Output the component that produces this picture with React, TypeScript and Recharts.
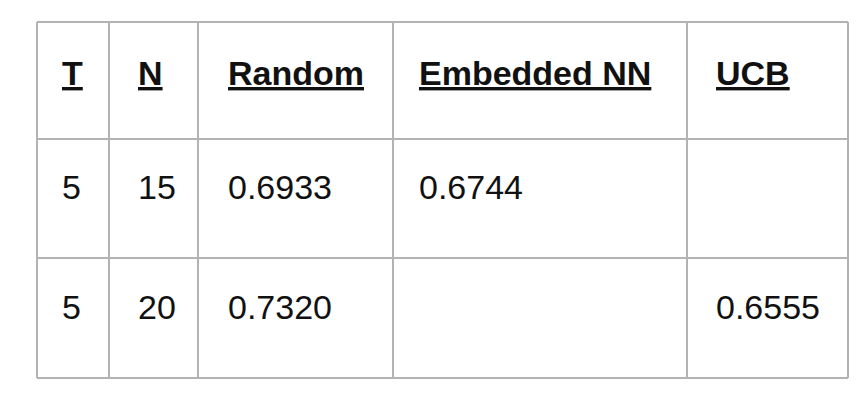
import React from 'react';
import { ScatterChart, Scatter, XAxis, YAxis, ReferenceLine } from 'recharts';

const headers = ['T', 'N', 'Random', 'Embedded NN', 'UCB'];
const rows = [
  ['5', '15', '0.6933', '0.6744', ''],
  ['5', '20', '0.7320', '', '0.6555'],
];
const colEdges = [37, 109, 198, 393, 687, 848];
const rowEdges = [22, 139, 258, 378];
const textX = [62, 138, 228, 419, 716];
const textY = [85, 199, 319];

const cells = [
  ...headers.map((t, c) => ({ x: textX[c], y: textY[0], text: t, bold: true })),
  ...rows.flatMap((r, ri) =>
    r.map((t, c) => ({ x: textX[c], y: textY[ri + 1], text: t, bold: false }))
  ),
].filter((d) => d.text !== '');

const CellText = (props: any) => {
  const { cx, cy, payload } = props;
  return (
    <text
      x={cx}
      y={cy}
      fontFamily="Liberation Sans, Arial, sans-serif"
      fontSize={34}
      fontWeight={payload.bold ? 700 : 400}
      textDecoration={payload.bold ? 'underline' : undefined}
      fill="#111"
    >
      {payload.text}
    </text>
  );
};

export default function App() {
  return (
    <div style={{ position: 'absolute', left: 0, top: 0, background: '#fff' }}>
      <ScatterChart width={868} height={402} margin={{ top: 0, right: 0, bottom: 0, left: 0 }}>
        <XAxis type="number" dataKey="x" domain={[0, 868]} hide />
        <YAxis type="number" dataKey="y" domain={[0, 402]} reversed hide />
        {colEdges.map((x) => (
          <ReferenceLine key={'c' + x} stroke="#b3b3b3" strokeWidth={2} segment={[{ x, y: rowEdges[0] }, { x, y: rowEdges[3] }]} />
        ))}
        {rowEdges.map((y) => (
          <ReferenceLine key={'r' + y} stroke="#b3b3b3" strokeWidth={2} segment={[{ x: colEdges[0], y }, { x: colEdges[5], y }]} />
        ))}
        <Scatter data={cells} shape={<CellText />} isAnimationActive={false} />
      </ScatterChart>
    </div>
  );
}
